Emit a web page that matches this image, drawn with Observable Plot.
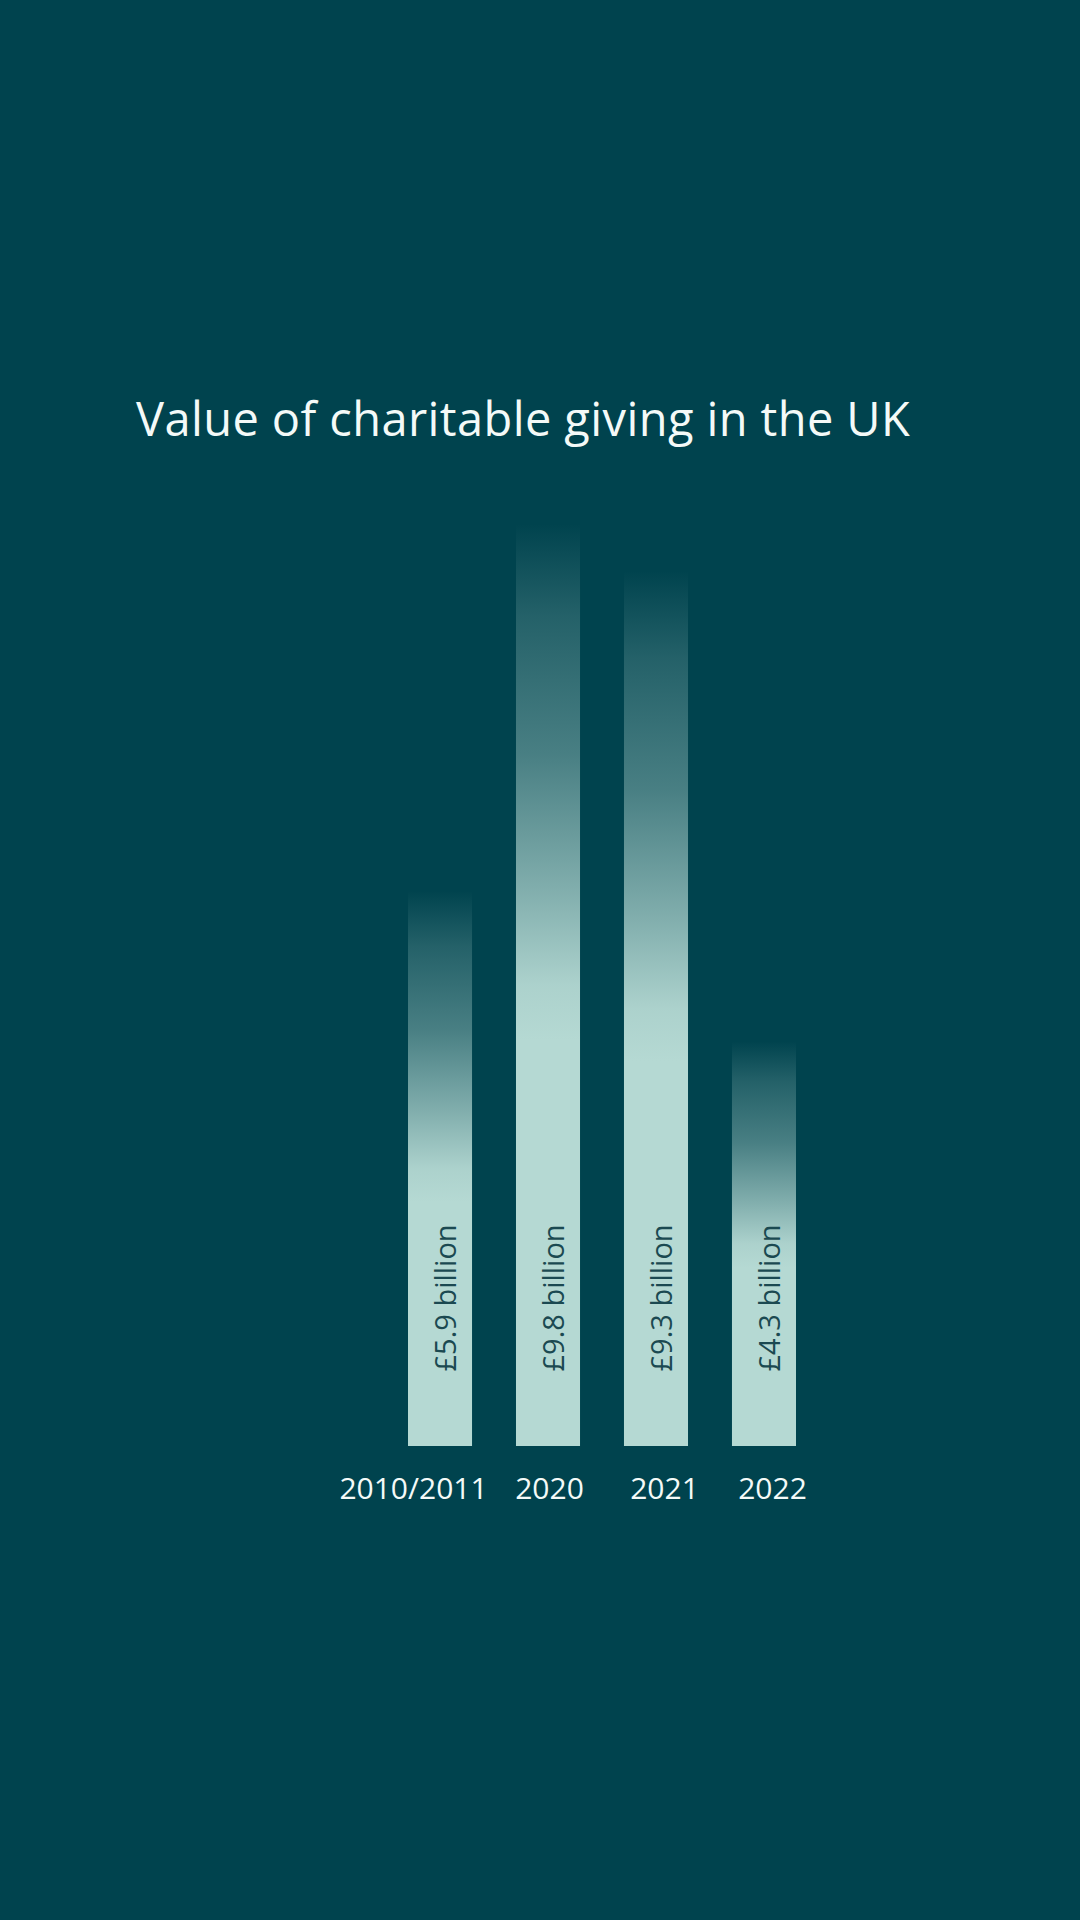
<!DOCTYPE html>
<html>
<head>
<meta charset="utf-8">
<script src="https://cdn.jsdelivr.net/npm/d3@7"></script>
<script src="https://cdn.jsdelivr.net/npm/@observablehq/plot@0.6"></script>
<style>
  html, body { margin: 0; padding: 0; background: #00434E; width: 1080px; height: 1920px; overflow: hidden; }
  #title { margin: 0; padding: 395px 0 0 136px; height: 47px; line-height: 47px; letter-spacing: 0.4px;
           font-family: "Open Sans", sans-serif; font-weight: 400; font-size: 47px; color: #F4FAF8; white-space: nowrap; }
  #chart svg { display: block; }
</style>
</head>
<body>
<div id="title">Value of charitable giving in the UK</div>
<div id="chart"></div>
<script>
const years = ["2010/2011", "2020", "2021", "2022"];
const values = [5.9, 9.8, 9.3, 4.3];
const labels = ["£5.9 billion", "£9.8 billion", "£9.3 billion", "£4.3 billion"];

const data = years.map((year, i) => ({year, value: values[i], label: labels[i]}));

const light = "#B5D9D3";

const svg = Plot.plot({
  width: 1080,
  height: 1100,
  marginLeft: 408,
  marginRight: 284,
  marginTop: 63,
  marginBottom: 96,
  style: {background: "transparent", overflow: "visible"},
  x: {type: "band", domain: years, paddingInner: 0.407, paddingOuter: 0, round: false, axis: null},
  y: {domain: [0, 10], axis: null},
  marks: [
    Plot.barY(data, {x: "year", y: "value", fill: "url(#fade)"}),
    Plot.text(data, {
      x: "year", y: () => 0, text: "label", rotate: -90, textAnchor: "start",
      dy: -75, dx: 6, fill: "#1B4951", fontSize: 29, fontWeight: 400,
      fontFamily: "Open Sans"
    }),
    Plot.text(data.slice(0, 1), {
      x: "year", y: () => 0, text: "year", textAnchor: "middle", lineAnchor: "bottom",
      dy: 52, dx: -27, fill: "#F4FAF8", fontSize: 30, fontFamily: "Open Sans"
    }),
    Plot.text(data.slice(1, 2), {
      x: "year", y: () => 0, text: "year", textAnchor: "middle", lineAnchor: "bottom",
      dy: 52, dx: 1, fill: "#F4FAF8", fontSize: 30, fontFamily: "Open Sans"
    }),
    Plot.text(data.slice(2), {
      x: "year", y: () => 0, text: "year", textAnchor: "middle", lineAnchor: "bottom",
      dy: 52, dx: 8, fill: "#F4FAF8", fontSize: 30, fontFamily: "Open Sans"
    })
  ]
});

const defs = d3.select(svg).insert("defs", ":first-child");
const grad = defs.append("linearGradient")
  .attr("id", "fade").attr("x1", 0).attr("y1", 0).attr("x2", 0).attr("y2", 1);
const stops = [[0, 0], [0.1, 0.2], [0.25, 0.4], [0.4, 0.72], [0.5, 0.95], [0.56, 1], [1, 1]];
stops.forEach(([o, a]) => grad.append("stop").attr("offset", o).attr("stop-color", light).attr("stop-opacity", a));

document.getElementById("chart").appendChild(svg);
</script>
</body>
</html>
